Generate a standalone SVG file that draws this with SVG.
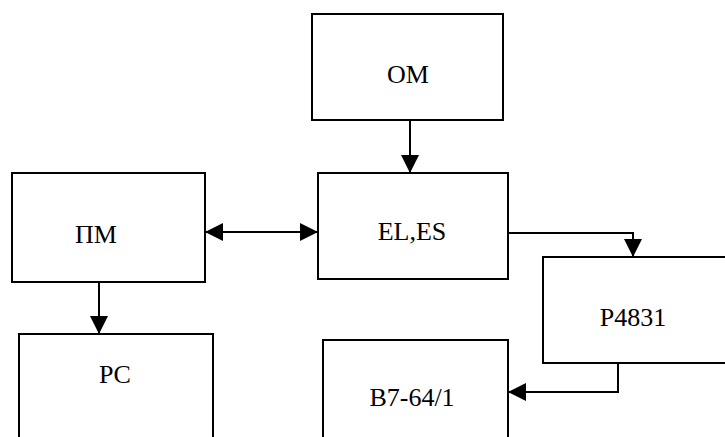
<svg xmlns="http://www.w3.org/2000/svg" width="725" height="437" viewBox="0 0 725 437">
<style>
.box{fill:#fff;stroke:#000;stroke-width:2}
.lbl{font-family:"Liberation Serif","Times New Roman",serif;font-size:26px;fill:#000;text-anchor:middle}
.con{fill:none;stroke:#000;stroke-width:2}
</style>
<defs>
<marker id="ah" markerUnits="userSpaceOnUse" markerWidth="20" markerHeight="20" refX="18" refY="9" orient="auto-start-reverse">
<path d="M0,0 L18,9 L0,18 Z" fill="#000"/>
</marker>
</defs>
<rect width="725" height="437" fill="#fff"/>
<g id="OM"><rect class="box" x="312" y="14" width="191" height="106"/><text class="lbl" x="408" y="83">OM</text></g>
<g id="PM"><rect class="box" x="12" y="173" width="193" height="109"/><text class="lbl" x="96" y="243">ПМ</text></g>
<g id="ELES"><rect class="box" x="318" y="173" width="190" height="106"/><text class="lbl" x="412" y="240">EL,ES</text></g>
<g id="P4831"><rect class="box" x="543" y="257" width="200" height="106"/><text class="lbl" x="633" y="326">P4831</text></g>
<g id="PC"><rect class="box" x="19" y="334" width="194" height="120"/><text class="lbl" x="115" y="383">PC</text></g>
<g id="B7"><rect class="box" x="323" y="340" width="185" height="120"/><text class="lbl" x="412" y="406">B7-64/1</text></g>
<g id="connectors">
<path class="con" d="M410,120 L410,173" marker-end="url(#ah)"/>
<path class="con" d="M205,232 L318,232" marker-start="url(#ah)" marker-end="url(#ah)"/>
<path class="con" d="M99,282 L99,334" marker-end="url(#ah)"/>
<path class="con" d="M508,233 L633,233 L633,257" marker-end="url(#ah)"/>
<path class="con" d="M618,363 L618,392 L508,392" marker-end="url(#ah)"/>
</g>
</svg>
